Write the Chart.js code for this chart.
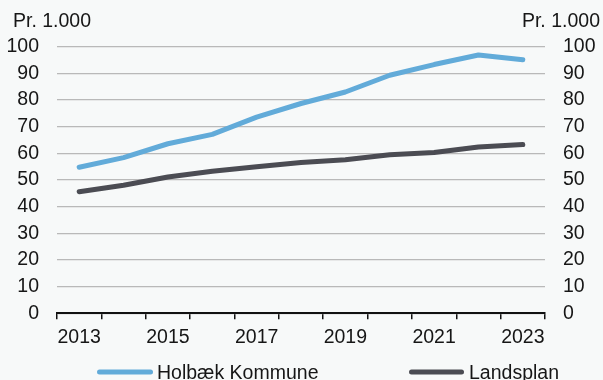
<!DOCTYPE html>
<html>
<head>
<meta charset="utf-8">
<script src="https://cdn.jsdelivr.net/npm/chart.js@4.4.1/dist/chart.umd.min.js"></script>
<style>
  body { margin: 0; background: #f7f9f9; }
  #wrap { width: 603px; height: 380px; }
</style>
</head>
<body>
<div id="wrap"><canvas id="chart1" width="603" height="380"></canvas></div>
<script>
// data
var years = ['2013','2014','2015','2016','2017','2018','2019','2020','2021','2022','2023'];
var holbaek = [54.8, 58.4, 63.6, 67.1, 73.6, 78.7, 83.0, 89.3, 93.3, 96.9, 95.1];
var landsplan = [45.6, 48.0, 51.1, 53.3, 55.0, 56.6, 57.6, 59.5, 60.3, 62.4, 63.3];
var seriesNames = ['Holbæk Kommune', 'Landsplan'];
var seriesColors = ['#62abd9', '#4b4c53'];
var yTicks = [0, 10, 20, 30, 40, 50, 60, 70, 80, 90, 100];
var unitLabel = 'Pr. 1.000';

var fontFam = '"Liberation Sans", Arial, sans-serif';
var txtColor = '#161616';

// background, unit labels and the legend row
var extras = {
  id: 'extras',
  beforeDraw: function (chart) {
    var ctx = chart.ctx;
    ctx.save();
    ctx.fillStyle = '#f7f9f9';
    ctx.fillRect(0, 0, chart.width, chart.height);
    ctx.restore();
  },
  afterDraw: function (chart) {
    var ctx = chart.ctx;
    ctx.save();
    ctx.font = '19.5px ' + fontFam;
    ctx.fillStyle = txtColor;
    ctx.textBaseline = 'alphabetic';
    ctx.textAlign = 'left';
    ctx.fillText(unitLabel, 13, 27);
    ctx.textAlign = 'right';
    ctx.fillText(unitLabel, 600, 27);

    // legend
    var items = [{ x0: 97, x1: 153, tx: 157 }, { x0: 409, x1: 464, tx: 469 }];
    var ds = chart.data.datasets;
    ctx.lineCap = 'round';
    ctx.lineWidth = 5;
    for (var i = 0; i < ds.length; i++) {
      var it = items[i];
      ctx.strokeStyle = ds[i].borderColor;
      ctx.beginPath();
      ctx.moveTo(it.x0 + 2.5, 372);
      ctx.lineTo(it.x1 - 2.5, 372);
      ctx.stroke();
      ctx.textAlign = 'left';
      ctx.fillStyle = txtColor;
      ctx.fillText(ds[i].label, it.tx, 379);
    }
    ctx.restore();
  }
};

var ctx1 = document.getElementById('chart1').getContext('2d');
var myLineChart = new Chart(ctx1, {
  type: 'line',
  data: {
    labels: years,
    datasets: [{
      label: seriesNames[0],
      data: holbaek,
      borderColor: seriesColors[0],
      backgroundColor: seriesColors[0],
      borderWidth: 5,
      borderCapStyle: 'round',
      borderJoinStyle: 'round',
      pointRadius: 0,
      tension: 0,
      yAxisID: 'y'
    }, {
      label: seriesNames[1],
      data: landsplan,
      borderColor: seriesColors[1],
      backgroundColor: seriesColors[1],
      borderWidth: 5,
      borderCapStyle: 'round',
      borderJoinStyle: 'round',
      pointRadius: 0,
      tension: 0,
      yAxisID: 'y'
    }]
  },
  options: {
    responsive: false,
    animation: false,
    layout: { padding: { top: 46.7, bottom: 30.7, left: 0, right: 0 } },
    plugins: {
      legend: { display: false },
      tooltip: { enabled: false }
    },
    scales: {
      x: {
        offset: true,
        grid: {
          offset: true,
          drawOnChartArea: false,
          drawTicks: true,
          tickLength: 6,
          color: '#111',
          lineWidth: 1.5
        },
        border: { display: true, color: '#111', width: 2 },
        ticks: {
          autoSkip: false,
          maxRotation: 0,
          padding: 7,
          color: txtColor,
          font: { family: fontFam, size: 19.5 },
          callback: function (val, idx) {
            return idx % 2 === 0 ? years[idx] : '';
          }
        },
        afterFit: function (scale) { scale.height = 36; }
      },
      y: {
        position: 'left',
        min: 0,
        max: 100,
        afterBuildTicks: function (scale) {
          scale.ticks = yTicks.map(function (v) { return { value: v }; });
        },
        grid: { color: '#b9b9b9', lineWidth: 1.3, drawTicks: false },
        border: { display: false },
        ticks: {
          padding: 18,
          color: txtColor,
          font: { family: fontFam, size: 19.5 }
        },
        afterFit: function (scale) { scale.width = 57; }
      },
      y2: {
        position: 'right',
        min: 0,
        max: 100,
        afterBuildTicks: function (scale) {
          scale.ticks = yTicks.map(function (v) { return { value: v }; });
        },
        grid: { display: false, drawTicks: false },
        border: { display: false },
        ticks: {
          padding: 18,
          color: txtColor,
          font: { family: fontFam, size: 19.5 }
        },
        afterFit: function (scale) { scale.width = 58; }
      }
    }
  },
  plugins: [extras]
});
</script>
</body>
</html>
